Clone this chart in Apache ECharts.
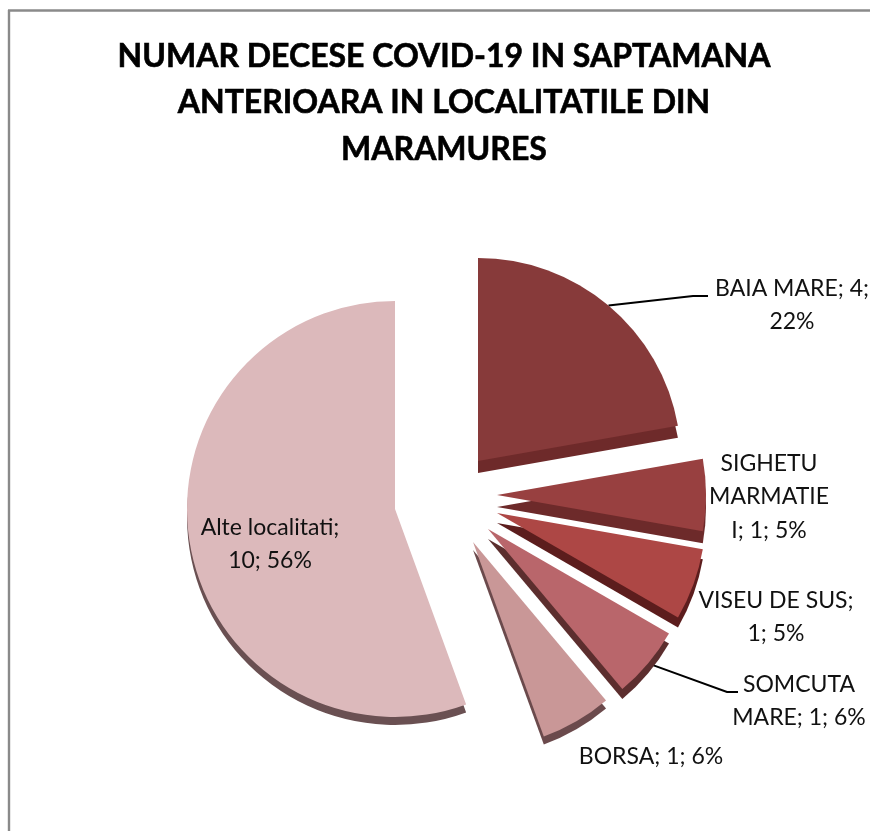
<!DOCTYPE html>
<html><head><meta charset="utf-8">
<style>html,body{margin:0;padding:0;background:#fff}#c{width:870px;height:831px}</style>
<script src="https://cdn.jsdelivr.net/npm/echarts@6/dist/echarts.min.js"></script>
</head><body><div id="c"></div>
<script>
const titleLines = ["NUMAR DECESE COVID-19 IN SAPTAMANA","ANTERIOARA IN LOCALITATILE DIN","MARAMURES"];
const categories = ["BAIA MARE","SIGHETU MARMATIEI","VISEU DE SUS","SOMCUTA MARE","BORSA","Alte localitati"];
const values = [4,1,1,1,1,10];
const labelTexts = ["BAIA MARE; 4;\n22%","SIGHETU\nMARMATIE\nI; 1; 5%","VISEU DE SUS;\n1; 5%","SOMCUTA\nMARE; 1; 6%","BORSA; 1; 6%","Alte localitati;\n10; 56%"];
const faceColors = ["#873a3a","#984040","#ad4745","#b9666b","#c99797","#dcb9bb"];
const sideColors = ["#6e2a2a","#6d2a2a","#5c1d1d","#5c2e2e","#6b4a4c","#6a5052"];
// per-slice explosion layout: centre, radius, extrusion depth
const centres = [[478,461],[497,495],[497,513],[488,529],[473,542],[395,509]];
const radii = [203,209,209,209,207,208];
const depths = [12,12,10,10,8,8];
// label anchors and leader elbows
const labelPos = [[792,305],[769,497],[776,617],[799,701],[651,757],[270,544]];
const leaderElbows = [[[693,296],[708,296]],null,null,[[727,692],[738,692]],null,null];

const total = values.reduce((a,b)=>a+b,0);
let cum = 0;
const series = values.map((v,i)=>{
  const startAngle = 90 - cum/total*360;
  cum += v;
  return {
    type:'pie', silent:true, animation:false, clockwise:true,
    center:centres[i], radius:[0,radii[i]], startAngle, avoidLabelOverlap:false,
    emphasis:{disabled:true},
    label:{show:true,position:'outside',color:'#111',fontFamily:'Lato',fontSize:23,lineHeight:33.5,align:'center',formatter:labelTexts[i]},
    labelLine:{show:!!leaderElbows[i],length:10,length2:10,smooth:false,lineStyle:{color:'#000',width:2}},
    labelLayout:p=>{
      const out={x:labelPos[i][0],y:labelPos[i][1],align:'center',verticalAlign:'middle',hideOverlap:false};
      if(leaderElbows[i]&&p.labelLinePoints) out.labelLinePoints=[p.labelLinePoints[0],leaderElbows[i][0],leaderElbows[i][1]];
      return out;
    },
    data:[
      {name:categories[i],value:v,itemStyle:{color:faceColors[i],shadowColor:sideColors[i],shadowBlur:0,shadowOffsetX:0,shadowOffsetY:depths[i]}},
      {name:'',value:total-v,itemStyle:{color:'rgba(0,0,0,0)'},label:{show:false},labelLine:{show:false}}
    ]
  };
});
const chart = echarts.init(document.getElementById('c'),null,{renderer:'canvas'});
chart.setOption({
  backgroundColor:'#fff',
  title:{text:titleLines.join("\n"),left:439,top:28,textAlign:'center',
    textStyle:{fontFamily:'Lato',fontWeight:'bold',fontSize:32,lineHeight:46.5,color:'#000',textBorderColor:'#000',textBorderWidth:0.6}},
  graphic:[
    {type:'line',silent:true,shape:{x1:8,y1:10.5,x2:870,y2:10.5},style:{stroke:'#8a8a8a',lineWidth:2.4}},
    {type:'line',silent:true,shape:{x1:9,y1:10,x2:9,y2:831},style:{stroke:'#8a8a8a',lineWidth:2.4}}
  ],
  series
});
</script></body></html>
